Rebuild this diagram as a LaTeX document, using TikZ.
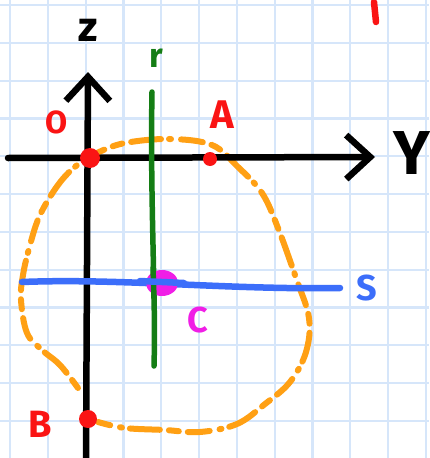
\documentclass[tikz,border=0pt]{standalone}
\usepackage{fontspec}
\setmainfont{Fira Sans}
\usetikzlibrary{arrows.meta,shapes.geometric}
\definecolor{gridblue}{RGB}{214,230,250}
\definecolor{penorange}{RGB}{255,160,20}
\definecolor{pengreen}{RGB}{20,125,20}
\definecolor{penblue}{RGB}{60,110,250}
\definecolor{penmagenta}{RGB}{240,30,230}
\definecolor{penred}{RGB}{250,20,20}
\tikzset{
  pen/.style={line width=6.5pt, line cap=round, line join=round},
  lbl/.style={inner sep=0pt, font=\bfseries\fontsize{#1}{#1}\selectfont},
  dot/.style={circle, fill=penred, inner sep=0pt, minimum size=#1},
  barb/.style={-{Straight Barb[length=24pt, width=44pt, line width=6.5pt]}}
}
\begin{document}
\begin{tikzpicture}[x=1pt, y=-1pt]
\useasboundingbox (0,0) rectangle (429,458);
\fill[white] (0,0) rectangle (429,458);
% grid
\foreach \i in {0,...,11} {
  \draw[gridblue, line width=2.2pt] ({10+37.8*\i},0) -- ({10+37.8*\i},458);
  \draw[gridblue, line width=2.2pt] (0,{5+37.8*\i}) -- (429,{5+37.8*\i});
}
% coordinates
\coordinate (zb) at (86,458);
\coordinate (zt) at (88,72);
\coordinate (yl) at (8,158);
\coordinate (yr) at (375,157);
\coordinate (rt) at (152,92);
\coordinate (rb) at (154,366);
\coordinate (sl) at (22,282);
\coordinate (sr) at (340,288);
\coordinate (it) at (374,2);
\coordinate (ib) at (376,22);
% orange dashed circle
\draw[pen, penorange, line width=6pt, dash pattern=on 10pt off 9pt on 30pt off 8pt on 2pt off 10pt on 22pt off 9pt]
  plot[smooth, tension=0.6] coordinates {(78,388) (60,365) (42,350) (27,333) (21,300) (23,275) (30,245) (40,215) (58,185) (76,166) (97,153) (125,143) (170,139) (212,145) (238,167) (262,193) (278,228) (296,278) (309,318) (306,352) (290,382) (265,404) (237,424) (200,432) (165,430) (125,428) (98,422)};
% axes
\draw[pen, black, barb] (zb) -- (zt);
\draw[pen, black, barb] (yl) -- (yr);
% lines r and s
\draw[pen, pengreen, line width=5.5pt] (rt) .. controls (150,200) and (156,300) .. (rb);
\draw[pen, penblue] (sl) .. controls (120,278) and (230,290) .. (sr);
% points
\node[dot=20pt] (O) at (90,158) {};
\node[dot=14pt] (A) at (210,159) {};
\node[dot=18pt] (B) at (88,419) {};
\node[ellipse, fill=penmagenta, inner sep=0pt, minimum width=32pt, minimum height=26pt] (C) at (162,283) {};
\draw[pen, pengreen, line width=5.5pt] (153,268) -- (154,298);
\draw[pen, penblue] (140,281) -- (184,283);
% red mark
\draw[pen, penred] (it) -- (ib);
% labels
\node[lbl=42, text=black] (zl) at (88,30) {z};
\node[lbl=62, text=black] (Yl) at (412,153) {Y};
\node[lbl=34, text=pengreen] (rl) at (156,58) {r};
\node[lbl=32, text=penred] (Ol) at (57,122) {O};
\node[lbl=40, text=penred] (Al) at (222,115) {A};
\node[lbl=36, text=penblue] (Sl) at (367,288) {S};
\node[lbl=36, text=penmagenta] (Cl) at (198,320) {C};
\node[lbl=38, text=penred] (Bl) at (40,424) {B};
\end{tikzpicture}
\end{document}
